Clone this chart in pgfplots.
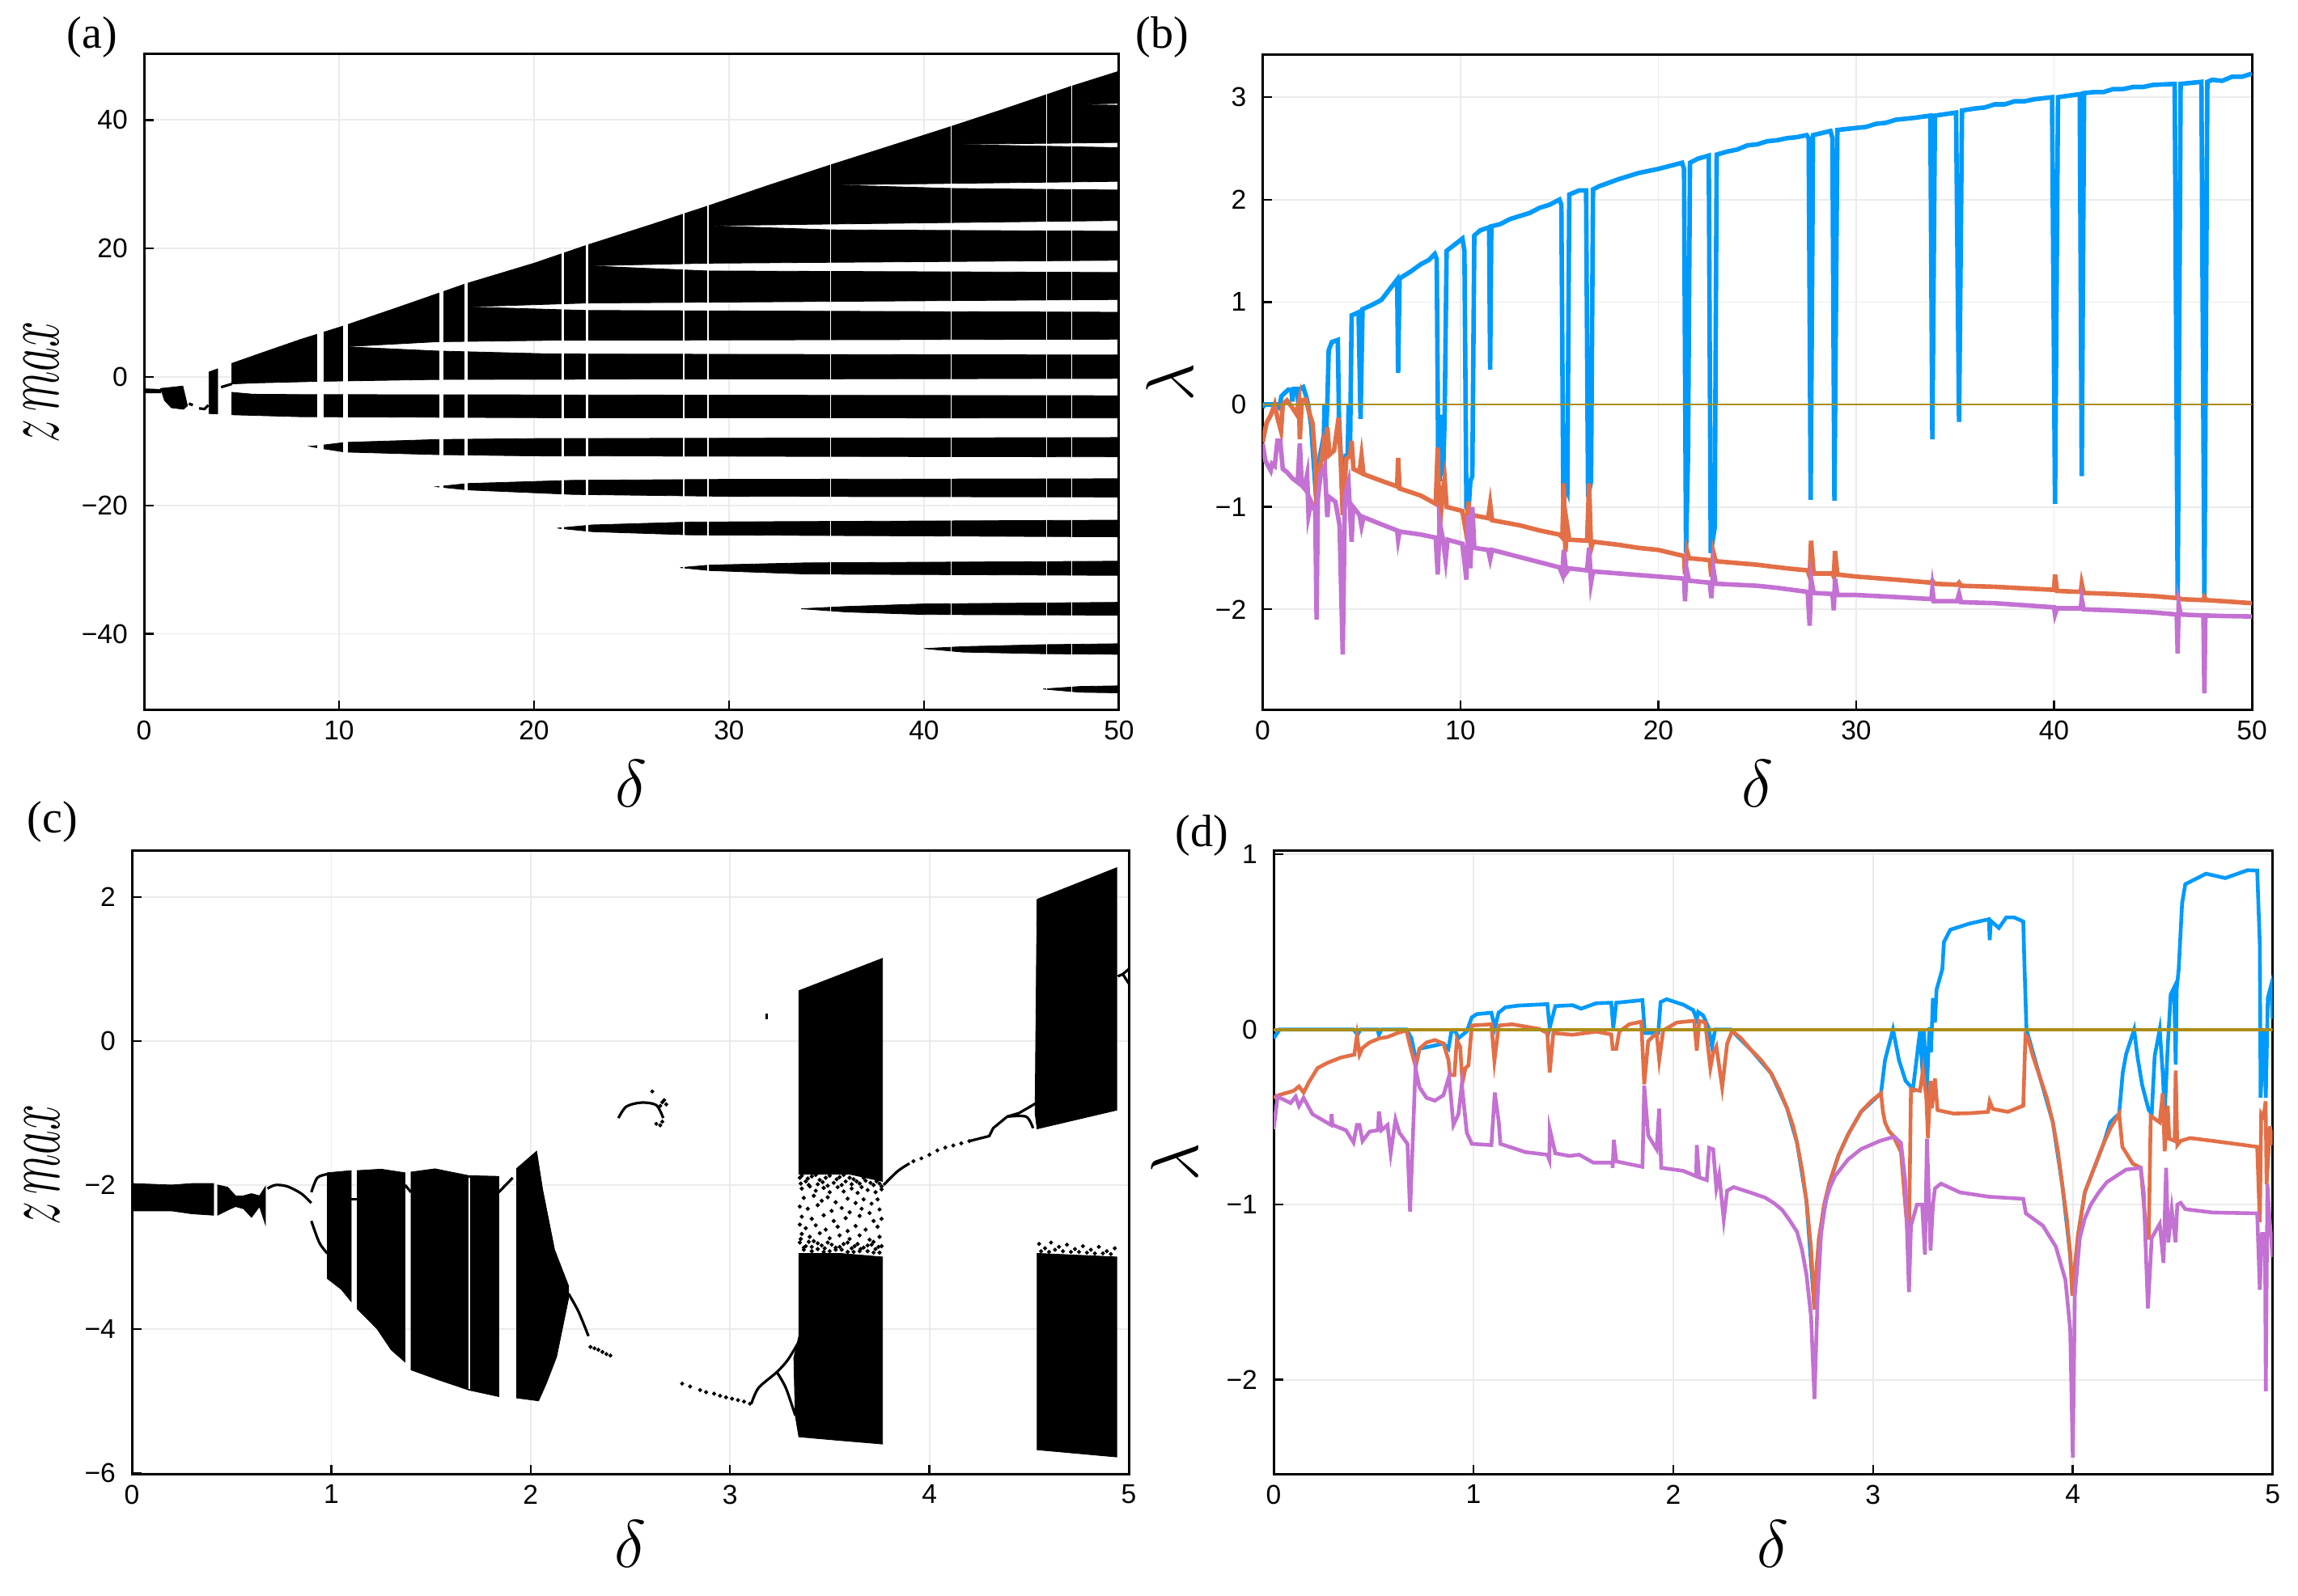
\documentclass[border=0pt]{standalone}
\usepackage{fontspec}
\usepackage{graphicx}
\usepackage{pgfplots}
\pgfplotsset{compat=1.18}
\setmainfont{Liberation Serif}
\newfontfamily\tickfont{Liberation Sans}
\definecolor{jblue}{RGB}{0,154,250}
\definecolor{jorange}{RGB}{227,111,71}
\definecolor{jpurple}{RGB}{195,113,210}
\definecolor{jolive}{RGB}{172,141,24}
\newcommand\zmaxlabel{\scalebox{1}[1.72]{\fontsize{14}{14}\selectfont$z\,max$}}
\newcommand\lamlabel{\fontsize{21}{21}\selectfont$\lambda$}
\newcommand\dellabel{\fontsize{20}{20}\selectfont$\delta$}
\pgfplotsset{
  panel/.style={
    scale only axis, anchor=south west,
    grid=major, grid style={black!8, line width=0.45pt},
    tick align=inside, xtick pos=bottom, ytick pos=left,
    major tick length=3pt,
    tick style={black, line width=0.6pt},
    axis line style={line width=0.75pt},
    ticklabel style={font=\tickfont\fontsize{8.4}{10}\selectfont},
    xticklabel style={yshift=0.2pt},
    yticklabel style={xshift=-1.5pt},
    xlabel style={at={(axis description cs:0.5,-0.112)}, anchor=center},
  },
  band/.style={fill=black, draw=black, line width=0.2pt},
  gap/.style={fill=white, draw=none},
  curve/.style={black, line width=0.8pt},
  dots/.style={only marks, mark=*, mark size=0.4pt, black},
}
\begin{document}
\begin{tikzpicture}
\path[use as bounding box] (0,0) rectangle (710pt,493pt);

% (a)
\begin{axis}[panel, at={(44.5pt,273.5pt)}, width=301.25pt, height=202.75pt,
  xmin=0, xmax=50, ymin=-51.9, ymax=50.25,
  xtick={0,10,20,30,40,50}, xticklabels={0,10,20,30,40,50},
  ytick={-40,-20,0,20,40}, yticklabels={−40,−20,0,20,40},
  xlabel={\dellabel}, ylabel={\zmaxlabel},
  ylabel style={at={(axis description cs:-0.105,0.5)}, anchor=center}]
\addplot[band] coordinates {(4.5,2.1)(6,3.7)(8,5.8)(10.3,8)(10.3,4.7)(15,4.04)(21,3.57)(50,3.41)(50,-0.24)(15,-0.4)(8.9,-0.7)(5.6,-0.95)(4.5,-1.1)} --cycle;
\addplot[band] coordinates {(10.3,4.7)(15,5.47)(21,5.7)(50,5.87)(50,10.07)(22.7,10.35)(16.5,10.9)(16.5,14.5)(13,10.8)(10.3,8)} --cycle;
\addplot[band] coordinates {(16.5,10.9)(16.5,14.5)(20,17.7)(22.7,20.5)(22.7,17.3)(28.9,16.5)(50,16.26)(50,12.05)(22.7,11.5)} --cycle;
\addplot[band] coordinates {(22.7,17.3)(22.7,20.5)(26,23.7)(28.9,26.6)(28.9,23.55)(35.2,22.9)(50,22.68)(50,18.16)(28.9,17.7)} --cycle;
\addplot[band] coordinates {(28.9,23.55)(28.9,26.6)(32,29.8)(35.2,33)(35.2,29.9)(41.5,29.34)(50,29.1)(50,24.35)(35.2,23.8)} --cycle;
\addplot[band] coordinates {(35.2,29.9)(35.2,33)(38,35.7)(41.4,39)(41.4,36.2)(50,35.7)(50,30.45)(41.5,30.13)} --cycle;
\addplot[band] coordinates {(41.4,36.2)(41.4,39)(44,41.6)(47.5,45.2)(47.5,42.4)(50,42.3)(50,36.5)} --cycle;
\addplot[band] coordinates {(47.5,42.4)(47.5,45.2)(50,47.6)(50,42.6)} --cycle;
\addplot[band] coordinates {(4.5,-2.4)(5.6,-2.7)(8,-2.75)(50,-2.93)(50,-6.4)(20,-6.35)(8,-6.2)(4.5,-5.9)} --cycle;
\addplot[band] coordinates {(8.5,-10.8)(9.23,-10.6)(10.3,-10.2)(15,-9.75)(20,-9.6)(50,-9.44)(50,-12.45)(20,-12.3)(15,-12.1)(10.3,-11.7)(9,-11.1)} --cycle;
\addplot[band] coordinates {(15,-17.1)(16.6,-16.6)(22,-16.1)(30,-15.95)(50,-15.86)(50,-18.7)(30,-18.6)(22,-18.3)(16.6,-17.6)} --cycle;
\addplot[band] coordinates {(21.2,-23.55)(23,-23.05)(28,-22.6)(50,-22.3)(50,-24.9)(28,-24.6)(23,-24.1)} --cycle;
\addplot[band] coordinates {(27.5,-29.7)(29,-29.3)(34,-28.95)(50,-28.7)(50,-30.9)(34,-30.7)(29,-30.15)} --cycle;
\addplot[band] coordinates {(33.7,-36.1)(36,-35.75)(40,-35.35)(50,-35.1)(50,-37.1)(40,-37)(36,-36.6)} --cycle;
\addplot[band] coordinates {(40,-42.3)(42,-42)(46,-41.7)(50,-41.55)(50,-43.2)(46,-43.1)(42,-42.85)} --cycle;
\addplot[band] coordinates {(46.1,-48.6)(48,-48.2)(50,-48.1)(50,-49.2)(48,-49.1)} --cycle;
% small delta
\addplot[band] coordinates {(0,-1.85)(0.85,-1.95)(0.85,-2.5)(0,-2.5)} --cycle;
\addplot[band] coordinates {(0.85,-1.8)(1.99,-1.43)(2.23,-4.5)(2.02,-5.04)(1.4,-4.8)(1.05,-3.66)} --cycle;
\addplot[band] coordinates {(3.33,0.76)(3.78,1.26)(3.78,-5.76)(3.33,-5.7)} --cycle;
\addplot[curve] coordinates {(2.3,-4.15)(2.5,-4.4)};
\addplot[curve] coordinates {(2.82,-4.9)(3.1,-5)(3.3,-4.4)};
\addplot[curve] coordinates {(3.95,-1.6)(4.5,-1.1)};
% windows
\addplot[gap] coordinates {(8.9,-11.5)(9.2,-11.5)(9.2,7.5)(8.9,7.5)} --cycle;
\addplot[gap] coordinates {(10.2,-12)(10.45,-12)(10.45,9)(10.2,9)} --cycle;
\addplot[gap] coordinates {(15.15,-18)(15.35,-18)(15.35,14)(15.15,14)} --cycle;
\addplot[gap] coordinates {(16.42,-18)(16.6,-18)(16.6,15)(16.42,15)} --cycle;
\addplot[gap] coordinates {(21.4,-25)(21.55,-25)(21.55,20)(21.4,20)} --cycle;
\addplot[gap] coordinates {(22.67,-25)(22.77,-25)(22.77,21)(22.67,21)} --cycle;
\addplot[gap] coordinates {(27.63,-31)(27.7,-31)(27.7,27)(27.63,27)} --cycle;
\addplot[gap] coordinates {(28.9,-31)(28.96,-31)(28.96,28)(28.9,28)} --cycle;
\addplot[gap] coordinates {(35.2,-37.2)(35.23,-37.2)(35.23,33.5)(35.2,33.5)} --cycle;
\addplot[gap] coordinates {(41.35,-44)(41.38,-44)(41.38,39.5)(41.35,39.5)} --cycle;
\addplot[gap] coordinates {(46.27,-49.3)(46.31,-49.3)(46.31,44.5)(46.27,44.5)} --cycle;
\addplot[gap] coordinates {(47.55,-49.3)(47.59,-49.3)(47.59,46)(47.55,46)} --cycle;
\end{axis}
\node at (28.5pt,481.5pt) {\fontsize{14}{14}\selectfont (a)};

% (b)
\begin{axis}[panel, at={(390.1pt,273.5pt)}, width=305.65pt, height=202.75pt,
  xmin=0, xmax=50, ymin=-2.985, ymax=3.42,
  xtick={0,10,20,30,40,50}, xticklabels={0,10,20,30,40,50},
  ytick={-2,-1,0,1,2,3}, yticklabels={−2,−1,0,1,2,3},
  xlabel={\dellabel}, ylabel={\lamlabel},
  ylabel style={at={(axis description cs:-0.094,0.5)}, anchor=center}]
\addplot[jblue, line width=1.4pt] coordinates {(0,-.03)(.1,0)(.7,0)(.85,-.03)(.95,.08)(1.1,.11)(1.3,.145)(1.45,.14)(1.5,.03)(1.57,.15)(1.75,.15)(1.8,.01)(1.85,.15)(2.05,.17)(2.2,.08)(2.3,0)(2.45,-.2)(2.7,-.9)(2.9,-.5)(3.0,-.4)(3.08,-.45)(3.13,0)(3.2,-.3)(3.27,0)(3.34,.53)(3.5,.61)(3.8,.63)(3.86,-.13)(3.95,-.5)(4.05,-1)(4.2,-.5)(4.3,-.5)(4.35,0)(4.42,-.4)(4.5,.87)(4.85,.9)(4.95,-.14)(5.05,.93)(5.5,.97)(6,1.02)(6.4,1.12)(6.8,1.22)(6.85,.31)(6.92,1.22)(7,1.24)(7.5,1.3)(8,1.37)(8.4,1.41)(8.7,1.47)(8.8,1.42)(8.87,-.42)(8.95,-.75)(9.05,-.1)(9.12,-.7)(9.2,-.13)(9.3,1.5)(9.5,1.53)(10.1,1.62)(10.2,1.5)(10.3,-1)(10.4,-1.05)(10.5,-.75)(10.6,-.7)(10.7,1.65)(11,1.7)(11.45,1.73)(11.5,.34)(11.56,1.74)(12,1.76)(12.5,1.81)(13,1.84)(13.5,1.87)(14,1.92)(14.5,1.95)(15,2)(15.1,1.95)(15.2,-.95)(15.3,-.8)(15.4,-.85)(15.5,2.05)(16,2.09)(16.35,2.09)(16.45,-.9)(16.6,-.75)(16.7,2.1)(17,2.13)(18,2.2)(19,2.26)(20,2.3)(21.2,2.36)(21.3,2.3)(21.4,-1.45)(21.5,-.5)(21.6,2.36)(22,2.4)(22.55,2.43)(22.65,-1.45)(22.85,-1.2)(22.95,2.44)(23.5,2.47)(24,2.49)(24.5,2.53)(25,2.54)(25.5,2.57)(26,2.58)(26.5,2.6)(27,2.61)(27.5,2.63)(27.6,2.6)(27.7,-.93)(27.82,2.63)(28.7,2.67)(28.8,2.6)(28.9,-.94)(29.05,2.68)(30,2.7)(30.5,2.71)(31,2.74)(31.5,2.75)(32,2.78)(32.5,2.79)(33,2.8)(33.75,2.82)(33.85,-.34)(33.98,2.82)(35.05,2.85)(35.2,-.17)(35.35,2.87)(36,2.89)(36.5,2.9)(37,2.93)(37.5,2.93)(38,2.96)(38.5,2.96)(39,2.98)(39.9,3)(40.05,-.97)(40.2,3)(41.3,3.03)(41.4,-.7)(41.52,3.04)(42,3.05)(42.5,3.05)(43,3.08)(43.5,3.08)(44,3.1)(44.5,3.1)(45,3.12)(46.1,3.13)(46.25,-1.9)(46.4,3.13)(47.45,3.15)(47.6,-1.9)(47.75,3.15)(48,3.17)(48.5,3.16)(49,3.2)(49.5,3.2)(50,3.23)};
\addplot[jorange, line width=1.4pt] coordinates {(0,-.37)(.2,-.18)(.41,-.105)(.61,0)(.75,-.13)(.93,-.26)(1.02,0)(1.23,.04)(1.5,-.03)(1.7,-.09)(1.84,.03)(1.88,-.34)(1.98,.04)(2.18,.05)(2.39,-.105)(2.52,-.18)(2.66,-.53)(2.73,-1.03)(2.86,-.685)(3.07,-.395)(3.16,-.5)(3.27,-.22)(3.38,-.49)(3.61,-.45)(3.84,-.13)(3.95,-.53)(4.05,-1.08)(4.23,-.53)(4.43,-.5)(4.5,-.355)(4.59,-.63)(4.9,-.66)(5,-.5)(5.1,-.68)(6,-.745)(6.8,-.8)(6.85,-.52)(6.92,-.82)(8,-.89)(8.75,-.97)(8.85,-.42)(8.95,-1.22)(9.1,-.85)(9.2,-.72)(9.3,-1.0)(10.1,-1.04)(10.3,-1.27)(10.4,-.95)(10.5,-1.2)(10.6,-1.08)(11.4,-1.11)(11.5,-.97)(11.6,-1.13)(13,-1.18)(14,-1.23)(15,-1.27)(15.15,-1.3)(15.22,-.77)(15.3,-1.44)(15.4,-1.19)(15.5,-1.32)(16.4,-1.33)(16.5,-.77)(16.6,-1.41)(16.7,-1.34)(18,-1.37)(19,-1.4)(20,-1.42)(21.3,-1.48)(21.35,-1.66)(21.45,-1.43)(21.55,-1.5)(22.6,-1.52)(22.68,-1.68)(22.78,-1.44)(22.9,-1.53)(25,-1.565)(26.5,-1.6)(27.55,-1.62)(27.65,-1.68)(27.72,-1.33)(27.85,-1.65)(28.8,-1.65)(28.87,-1.68)(28.93,-1.43)(29.05,-1.66)(30,-1.68)(32,-1.71)(33.8,-1.74)(33.85,-1.72)(33.95,-1.75)(35.1,-1.76)(35.2,-1.74)(35.3,-1.77)(37,-1.78)(40,-1.81)(40.05,-1.66)(40.15,-1.82)(41.35,-1.83)(41.4,-1.75)(41.5,-1.84)(43,-1.85)(45,-1.87)(46.2,-1.89)(46.25,-1.87)(46.35,-1.9)(47.55,-1.91)(47.6,-1.88)(47.7,-1.91)(48.5,-1.92)(50,-1.94)};
\addplot[jpurple, line width=1.4pt] coordinates {(0,-.38)(.14,-.55)(.41,-.645)(.48,-.58)(.61,-.6)(.75,-.355)(.89,-.355)(1.02,-.63)(1.23,-.66)(1.5,-.72)(1.77,-.76)(1.88,-.38)(1.98,-.79)(2.11,-.82)(2.25,-.685)(2.32,-1.08)(2.45,-.95)(2.66,-1.04)(2.73,-2.1)(2.79,-.92)(2.93,-.685)(3.14,-.605)(3.27,-1.1)(3.34,-.9)(3.68,-.95)(3.89,-1.18)(4.05,-2.44)(4.16,-.9)(4.34,-.76)(4.5,-1.34)(4.57,-1)(4.9,-1.08)(5,-1.19)(5.1,-1.1)(6,-1.17)(6.8,-1.23)(6.85,-1.32)(6.92,-1.24)(8,-1.27)(8.75,-1.3)(8.85,-1.66)(8.95,-1.15)(9.1,-1.3)(9.25,-1.52)(9.35,-1.32)(10.1,-1.36)(10.3,-1.71)(10.4,-1.08)(10.5,-1.6)(10.6,-1.0)(10.7,-1.4)(11.4,-1.42)(11.5,-1.51)(11.6,-1.42)(12,-1.44)(13,-1.49)(14,-1.54)(15,-1.59)(15.15,-1.66)(15.22,-1.42)(15.35,-1.64)(15.5,-1.6)(16.4,-1.62)(16.5,-1.4)(16.6,-1.74)(16.7,-1.63)(18,-1.65)(20,-1.68)(21.3,-1.7)(21.35,-1.92)(21.42,-1.6)(21.55,-1.72)(22.6,-1.74)(22.68,-1.89)(22.78,-1.6)(22.9,-1.75)(25,-1.77)(26,-1.79)(27.55,-1.83)(27.65,-2.16)(27.72,-1.7)(27.85,-1.84)(28.8,-1.85)(28.87,-2.01)(28.93,-1.7)(29.05,-1.86)(30,-1.86)(32,-1.88)(33.8,-1.9)(33.85,-1.8)(33.92,-1.92)(35.1,-1.92)(35.2,-1.85)(35.3,-1.93)(37,-1.94)(40,-1.98)(40.05,-2.05)(40.15,-1.99)(41.35,-1.99)(41.4,-1.9)(41.5,-2)(43,-2.01)(45,-2.03)(46.2,-2.05)(46.25,-2.43)(46.3,-1.95)(46.4,-2.05)(47.55,-2.06)(47.6,-2.82)(47.65,-2.06)(48.5,-2.065)(50,-2.07)};
\addplot[jolive, line width=0.7pt] coordinates {(0,0)(50,0)};
\end{axis}
\node at (359pt,481.5pt) {\fontsize{14}{14}\selectfont (b)};

% (c)
\begin{axis}[panel, at={(40.75pt,37.375pt)}, width=308pt, height=192.8pt,
  xmin=0, xmax=5, ymin=-6.02, ymax=2.65,
  xtick={0,1,2,3,4,5}, xticklabels={0,1,2,3,4,5},
  ytick={-6,-4,-2,0,2}, yticklabels={−6,−4,−2,0,2},
  xlabel={\dellabel}, ylabel={\zmaxlabel},
  ylabel style={at={(axis description cs:-0.09,0.496)}, anchor=center}]
\addplot[band] coordinates {(0.01,-1.98)(.2,-2)(.3,-1.98)(.41,-1.98)(.41,-2.42)(.3,-2.4)(.2,-2.36)(0.01,-2.36)} --cycle;
\addplot[band] coordinates {(.43,-2)(.48,-2.03)(.52,-2.15)(.56,-2.15)(.6,-2.12)(.64,-2.15)(.67,-2.02)(.67,-2.55)(.64,-2.3)(.6,-2.45)(.56,-2.33)(.52,-2.3)(.48,-2.35)(.43,-2.42)} --cycle;
\addplot[curve, smooth] coordinates {(.68,-2.05)(.72,-2)(.78,-2.02)(.85,-2.12)(.9,-2.25)};
\addplot[curve, smooth] coordinates {(.9,-2.1)(.93,-1.9)(.98,-1.85)};
\addplot[curve, smooth] coordinates {(.9,-2.5)(.94,-2.8)(.98,-2.95)};
\addplot[band] coordinates {(.98,-1.83)(1.1,-1.8)(1.1,-3.62)(1.05,-3.45)(.98,-3.3)} --cycle;
\addplot[curve] coordinates {(1.1,-2.2)(1.13,-2.2)};
\addplot[band] coordinates {(1.13,-1.8)(1.25,-1.78)(1.37,-1.83)(1.37,-4.46)(1.3,-4.29)(1.23,-4)(1.13,-3.72)} --cycle;
\addplot[curve] coordinates {(1.37,-2)(1.4,-2.1)};
\addplot[band] coordinates {(1.4,-1.82)(1.52,-1.775)(1.69,-1.87)(1.84,-1.88)(1.84,-4.94)(1.69,-4.85)(1.54,-4.71)(1.4,-4.57)} --cycle;
\addplot[gap] coordinates {(1.69,-1.9)(1.696,-1.9)(1.696,-4.83)(1.69,-4.83)} --cycle;
\addplot[curve] coordinates {(1.84,-2.1)(1.91,-1.9)};
\addplot[band] coordinates {(1.93,-1.77)(2.03,-1.53)(2.06,-2.06)(2.12,-2.9)(2.19,-3.4)(2.19,-3.58)(2.13,-4.39)(2.08,-4.75)(2.04,-5)(1.93,-4.96)} --cycle;
\addplot[curve, smooth] coordinates {(2.19,-3.51)(2.24,-3.76)(2.29,-4.1)};
\addplot[dots] coordinates {(2.3,-4.25)(2.32,-4.27)(2.34,-4.29)(2.36,-4.32)(2.38,-4.35)(2.4,-4.37)};
\addplot[curve, smooth] coordinates {(2.44,-1.07)(2.48,-.91)(2.555,-.855)(2.63,-.89)(2.665,-1.07)};
\addplot[dots] coordinates {(2.61,-.7)(2.66,-.85)(2.67,-.82)(2.65,-.9)(2.68,-.88)(2.65,-1.17)(2.63,-1.15)(2.66,-1.12)};
\addplot[dots] coordinates {(2.76,-4.76)(2.8,-4.8)(2.85,-4.85)(2.88,-4.88)(2.92,-4.9)(2.95,-4.93)(2.98,-4.95)(3.01,-4.97)(3.04,-4.99)(3.07,-5.01)(3.1,-5.04)};
\addplot[curve, smooth] coordinates {(3.107,-5.04)(3.143,-4.82)(3.235,-4.6)(3.29,-4.43)(3.345,-4.18)};
\addplot[curve, smooth] coordinates {(3.235,-4.6)(3.28,-4.82)(3.327,-5.2)};
\addplot[curve] coordinates {(3.184,.3)(3.184,.38)};
\addplot[band] coordinates {(3.345,.7)(3.765,1.15)(3.765,-1.95)(3.6,-1.85)(3.345,-1.85)} --cycle;
\addplot[band] coordinates {(3.345,-2.95)(3.55,-2.95)(3.765,-3)(3.765,-5.6)(3.55,-5.55)(3.345,-5.5)(3.327,-5.2)(3.32,-4.4)(3.345,-4.1)} --cycle;
\addplot[dots, mark size=0.42pt] coordinates {
(3.35,-1.9)(3.38,-1.95)(3.41,-1.88)(3.45,-1.93)(3.48,-1.9)(3.52,-1.97)(3.55,-1.89)(3.58,-1.95)(3.62,-1.92)(3.65,-1.98)(3.68,-1.94)(3.72,-2)(3.75,-1.98)
(3.36,-1.87)(3.39,-1.91)(3.43,-1.86)(3.465,-1.96)(3.5,-1.87)(3.535,-1.92)(3.57,-1.86)(3.6,-1.9)(3.635,-1.95)(3.67,-1.9)(3.705,-1.97)(3.735,-1.95)(3.76,-2.02)
(3.355,-1.98)(3.395,-2)(3.44,-1.99)(3.49,-2.01)(3.56,-2)(3.61,-1.99)(3.66,-2.03)
(3.36,-2.05)(3.4,-2.02)(3.43,-2.08)(3.47,-2.04)(3.5,-2.1)(3.54,-2.03)(3.57,-2.09)(3.61,-2.05)(3.64,-2.11)(3.69,-2.07)(3.73,-2.1)(3.76,-2.06)
(3.37,-2.18)(3.42,-2.15)(3.46,-2.22)(3.49,-2.17)(3.53,-2.24)(3.59,-2.19)(3.63,-2.25)(3.67,-2.2)(3.71,-2.26)(3.74,-2.2)
(3.35,-2.3)(3.39,-2.33)(3.44,-2.28)(3.51,-2.36)(3.56,-2.32)(3.6,-2.38)(3.66,-2.33)(3.7,-2.39)(3.75,-2.34)
(3.36,-2.44)(3.41,-2.47)(3.47,-2.42)(3.52,-2.5)(3.58,-2.46)(3.65,-2.43)(3.72,-2.5)(3.76,-2.47)
(3.35,-2.55)(3.38,-2.6)(3.43,-2.56)(3.48,-2.62)(3.54,-2.58)(3.59,-2.64)(3.63,-2.57)(3.68,-2.62)(3.74,-2.58)
(3.36,-2.68)(3.4,-2.72)(3.45,-2.67)(3.5,-2.74)(3.55,-2.7)(3.6,-2.75)(3.65,-2.7)(3.7,-2.76)(3.75,-2.72)
(3.35,-2.8)(3.38,-2.85)(3.42,-2.78)(3.46,-2.84)(3.49,-2.8)(3.53,-2.87)(3.57,-2.82)(3.61,-2.88)(3.64,-2.82)(3.67,-2.87)(3.71,-2.83)(3.73,-2.89)(3.76,-2.85)
(3.355,-2.75)(3.37,-2.87)(3.395,-2.79)(3.41,-2.86)(3.44,-2.81)(3.475,-2.88)(3.51,-2.83)(3.55,-2.86)(3.59,-2.8)(3.625,-2.85)(3.655,-2.89)(3.69,-2.84)(3.72,-2.79)(3.745,-2.86)
(3.37,-2.9)(3.41,-2.92)(3.44,-2.89)(3.47,-2.93)(3.5,-2.92)(3.53,-2.9)(3.56,-2.9)(3.59,-2.93)(3.62,-2.93)(3.65,-2.92)(3.69,-2.92)(3.72,-2.94)(3.75,-2.94)};
\addplot[curve, smooth] coordinates {(3.77,-2)(3.84,-1.81)(3.9,-1.7)};
\addplot[dots] coordinates {(3.92,-1.67)(3.96,-1.63)(4,-1.58)(4.04,-1.52)(4.08,-1.48)(4.12,-1.45)(4.16,-1.42)(4.2,-1.39)};
\addplot[curve] coordinates {(4.2,-1.39)(4.3,-1.32)(4.32,-1.21)(4.39,-1.05)(4.45,-1)(4.54,-.855)};
\addplot[curve, smooth] coordinates {(4.39,-1.05)(4.485,-1.05)(4.52,-1.21)};
\addplot[band] coordinates {(4.54,1.97)(4.94,2.41)(4.94,-.96)(4.54,-1.22)(4.53,-1)} --cycle;
\addplot[band] coordinates {(4.54,-2.95)(4.94,-3)(4.94,-5.78)(4.7,-5.72)(4.54,-5.68)} --cycle;
\addplot[dots] coordinates {(4.55,-2.82)(4.58,-2.88)(4.61,-2.8)(4.65,-2.86)(4.69,-2.83)(4.73,-2.89)(4.77,-2.85)(4.81,-2.9)(4.85,-2.86)(4.89,-2.92)(4.93,-2.88)(4.56,-2.92)(4.6,-2.93)(4.63,-2.9)(4.67,-2.92)(4.71,-2.93)(4.75,-2.93)(4.79,-2.94)(4.83,-2.95)(4.87,-2.95)(4.91,-2.96)};
\addplot[curve] coordinates {(4.945,.9)(4.97,.93)(5,1)};
\addplot[curve] coordinates {(4.97,.93)(5,.8)};
\end{axis}
\node at (16.25pt,239pt) {\fontsize{14}{14}\selectfont (c)};

% (d)
\begin{axis}[panel, at={(393.5pt,37.375pt)}, width=308.65pt, height=192.8pt,
  xmin=0, xmax=5, ymin=-2.54, ymax=1.023,
  xtick={0,1,2,3,4,5}, xticklabels={0,1,2,3,4,5},
  ytick={-2,-1,0,1}, yticklabels={−2,−1,0,1},
  xlabel={\dellabel}, ylabel={\lamlabel},
  ylabel style={at={(axis description cs:-0.099,0.5)}, anchor=center}]
\addplot[jblue, line width=1.15pt] coordinates {(0,-.05)(.03,0)(.4,0)(.42,-.03)(.435,0)(.52,0)(.527,-.03)(.54,0)(.665,0)(.69,-.05)(.715,-.19)(.73,-.11)(.85,-.08)(.875,-.11)(.89,-.01)(.91,-.01)(.925,-.05)(.967,-.01)(.992,.07)(1.017,.088)(1.09,.096)(1.107,.01)(1.126,.096)(1.16,.127)(1.227,.137)(1.37,.145)(1.382,.01)(1.41,.134)(1.496,.139)(1.539,.119)(1.614,.15)(1.69,.153)(1.7,.01)(1.715,.153)(1.846,.168)(1.858,-.02)(1.925,-.02)(1.937,.157)(1.967,.173)(2.05,.142)(2.1,.111)(2.118,.057)(2.125,.1)(2.15,.08)(2.177,.01)(2.194,-.097)(2.21,0)(2.287,0)(2.387,-.113)(2.49,-.25)(2.57,-.45)(2.62,-.648)(2.667,-.98)(2.707,-1.6)(2.73,-1.19)(2.78,-.884)(2.827,-.72)(2.875,-.6)(2.94,-.47)(3.04,-.364)(3.06,-.175)(3.1,0)(3.13,-.175)(3.163,-.293)(3.2,-.34)(3.235,-.01)(3.248,-.25)(3.255,0)(3.267,-.39)(3.283,.014)(3.29,-.13)(3.3,.18)(3.31,.04)(3.318,.227)(3.347,.345)(3.355,.5)(3.387,.57)(3.483,.605)(3.58,.63)(3.584,.51)(3.59,.62)(3.63,.58)(3.667,.64)(3.707,.64)(3.752,.617)(3.758,.37)(3.768,0)(3.835,-.27)(3.9,-.53)(3.947,-.884)(3.987,-1.286)(3.998,-1.52)(4.027,-1.168)(4.06,-.93)(4.107,-.79)(4.155,-.648)(4.187,-.53)(4.232,-.48)(4.25,-.246)(4.267,-.14)(4.307,0)(4.323,-.15)(4.347,-.317)(4.38,-.46)(4.395,-.48)(4.41,-.15)(4.435,0)(4.45,-.246)(4.46,-.48)(4.475,-.1)(4.49,.2)(4.507,.24)(4.515,-.2)(4.52,.23)(4.53,.345)(4.547,.72)(4.563,.83)(4.667,.89)(4.763,.865)(4.875,.91)(4.923,.908)(4.936,.487)(4.94,-.39)(4.955,-.01)(4.966,-.39)(4.976,.18)(4.992,.25)(5,.06)};
\addplot[jorange, line width=1.15pt] coordinates {(0,-.39)(.025,-.375)(.1,-.35)(.127,-.325)(.15,-.36)(.177,-.3)(.22,-.22)(.27,-.19)(.337,-.16)(.404,-.143)(.417,-.035)(.43,-.143)(.445,-.105)(.48,-.074)(.53,-.05)(.57,-.043)(.62,-.02)(.665,-.005)(.68,-.08)(.71,-.21)(.73,-.11)(.765,-.074)(.807,-.06)(.85,-.08)(.875,-.174)(.883,-.26)(.905,-.26)(.917,-.06)(.934,-.1)(.945,-.305)(.96,-.22)(.975,-.205)(.992,.023)(1.09,.03)(1.105,-.18)(1.127,.023)(1.194,.03)(1.33,.003)(1.37,-.02)(1.382,-.245)(1.4,-.02)(1.496,-.03)(1.614,-.012)(1.69,-.028)(1.697,-.11)(1.715,-.11)(1.73,-.012)(1.78,.03)(1.84,.045)(1.855,-.313)(1.875,-.066)(1.917,-.02)(1.93,-.174)(1.95,-.005)(2.018,.04)(2.105,.05)(2.118,-.12)(2.13,.05)(2.16,.04)(2.186,-.22)(2.2,-.135)(2.216,-.097)(2.245,-.33)(2.27,-.08)(2.295,-.008)(2.34,-.05)(2.387,-.113)(2.44,-.175)(2.49,-.25)(2.53,-.34)(2.57,-.45)(2.6,-.55)(2.62,-.648)(2.645,-.8)(2.667,-.98)(2.69,-1.25)(2.707,-1.6)(2.718,-1.35)(2.73,-1.19)(2.755,-1.0)(2.78,-.884)(2.827,-.72)(2.875,-.6)(2.94,-.47)(2.99,-.41)(3.04,-.364)(3.05,-.47)(3.06,-.53)(3.08,-.58)(3.1,-.605)(3.14,-.7)(3.17,-1.12)(3.18,-1.19)(3.19,-.34)(3.235,-.35)(3.25,-.234)(3.267,-.39)(3.275,-.62)(3.288,-.293)(3.295,-.45)(3.31,-.28)(3.323,-.46)(3.403,-.48)(3.483,-.478)(3.576,-.47)(3.584,-.41)(3.6,-.454)(3.675,-.47)(3.752,-.435)(3.763,-.033)(3.774,-.045)(3.8,-.15)(3.835,-.27)(3.87,-.39)(3.9,-.53)(3.925,-.69)(3.947,-.884)(3.97,-1.08)(3.987,-1.286)(3.998,-1.52)(4.012,-1.33)(4.027,-1.168)(4.06,-.93)(4.107,-.79)(4.155,-.648)(4.19,-.56)(4.232,-.48)(4.248,-.67)(4.3,-.766)(4.34,-.79)(4.37,-1.19)(4.38,-1.19)(4.39,-.494)(4.435,-.53)(4.45,-.364)(4.46,-.695)(4.475,-.435)(4.483,-.624)(4.51,-.636)(4.515,-.234)(4.523,-.66)(4.54,-.636)(4.587,-.62)(4.7,-.636)(4.923,-.67)(4.936,-1.1)(4.943,-.48)(4.955,-.5)(4.965,-.41)(4.97,-.884)(4.987,-.553)(5,-.66)};
\addplot[jpurple, line width=1.15pt] coordinates {(0,-.57)(.02,-.383)(.085,-.42)(.11,-.383)(.127,-.437)(.15,-.39)(.194,-.483)(.287,-.545)(.29,-.483)(.295,-.545)(.362,-.575)(.4,-.645)(.417,-.545)(.43,-.545)(.445,-.637)(.48,-.583)(.522,-.575)(.527,-.468)(.54,-.575)(.57,-.545)(.586,-.707)(.61,-.514)(.63,-.59)(.67,-.653)(.683,-1.04)(.71,-.22)(.73,-.33)(.765,-.39)(.807,-.406)(.85,-.375)(.878,-.267)(.9,-.545)(.925,-.483)(.942,-.313)(.967,-.59)(.992,-.653)(1.09,-.66)(1.107,-.36)(1.127,-.53)(1.135,-.653)(1.26,-.7)(1.37,-.715)(1.38,-.745)(1.382,-.568)(1.41,-.707)(1.48,-.722)(1.53,-.715)(1.6,-.76)(1.695,-.76)(1.697,-.79)(1.703,-.63)(1.715,-.753)(1.846,-.784)(1.855,-.32)(1.875,-.606)(1.917,-.684)(1.93,-.452)(1.94,-.79)(2.05,-.807)(2.115,-.838)(2.118,-.66)(2.13,-.845)(2.168,-.86)(2.18,-.676)(2.2,-.684)(2.216,-.907)(2.23,-.83)(2.253,-1.085)(2.27,-.92)(2.303,-.9)(2.404,-.938)(2.46,-.96)(2.505,-.992)(2.545,-1.03)(2.58,-1.085)(2.62,-1.156)(2.645,-1.26)(2.667,-1.4)(2.69,-1.64)(2.707,-2.11)(2.723,-1.52)(2.74,-1.168)(2.763,-.98)(2.785,-.9)(2.81,-.837)(2.875,-.742)(2.94,-.683)(3.035,-.636)(3.107,-.612)(3.14,-.648)(3.163,-.884)(3.18,-1.5)(3.19,-1.12)(3.22,-1)(3.246,-1)(3.26,-1.286)(3.27,-.624)(3.288,-1.262)(3.3,-1)(3.31,-.908)(3.34,-.88)(3.435,-.93)(3.58,-.955)(3.752,-.967)(3.765,-1.05)(3.85,-1.12)(3.915,-1.24)(3.963,-1.43)(3.987,-1.71)(4,-2.444)(4.01,-1.52)(4.035,-1.19)(4.06,-1.08)(4.09,-1)(4.13,-.93)(4.17,-.872)(4.267,-.8)(4.34,-.79)(4.355,-.93)(4.376,-1.593)(4.395,-1.19)(4.435,-1.11)(4.454,-1.333)(4.467,-.79)(4.478,-1.215)(4.495,-1.026)(4.514,-1.215)(4.523,-1)(4.54,-.99)(4.563,-1.026)(4.7,-1.045)(4.923,-1.05)(4.936,-1.487)(4.947,-1.168)(4.962,-1.168)(4.966,-2.066)(4.974,-.884)(4.984,-1.07)(5,-1.3)};
\addplot[jolive, line width=0.9pt] coordinates {(0,0)(5,0)};
\end{axis}
\node at (371.25pt,234.75pt) {\fontsize{14}{14}\selectfont (d)};
\end{tikzpicture}
\end{document}
